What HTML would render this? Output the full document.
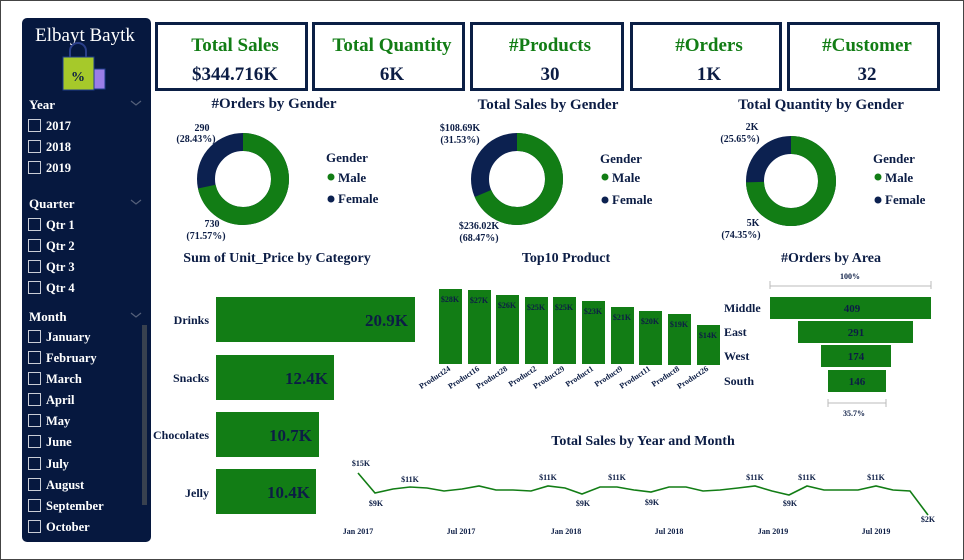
<!DOCTYPE html>
<html><head><meta charset="utf-8"><style>
body{margin:0;width:964px;height:560px;overflow:hidden;background:#fff;font-family:"Liberation Serif",serif;}
svg{display:block}
text{font-family:"Liberation Serif",serif;font-weight:bold;fill:#0c1d45}
</style></head><body>
<svg width="964" height="560" viewBox="0 0 964 560">
<rect x="0.5" y="0.5" width="963" height="559" fill="#fff" stroke="#444"/>
<rect x="22" y="18" width="129" height="524" rx="5" fill="#06183f"/>
<text x="85" y="41" text-anchor="middle" font-size="19" style="font-weight:normal;fill:#fff">Elbayt Baytk</text>
<rect x="63" y="57" width="31" height="33" fill="#a6c92a" stroke="#1d3d8a"/>
<path d="M70 57 v-6 a8 8 0 0 1 16 0 v6" fill="none" stroke="#2a3f8a" stroke-width="2"/>
<text x="78" y="81" text-anchor="middle" font-size="14" style="fill:#0c1d45">%</text>
<rect x="94" y="69" width="11" height="20" fill="#9b7ee8" stroke="#1d3d8a"/>
<g font-size="13">
<text x="29" y="109" style="fill:#fff">Year</text>
<text x="29" y="208" style="fill:#fff">Quarter</text>
<text x="29" y="321" style="fill:#fff">Month</text>
</g>
<g fill="none" stroke="#55607a" stroke-width="1.2">
<path d="M131 101 l5 4 l5 -4"/><path d="M131 200 l5 4 l5 -4"/><path d="M131 313 l5 4 l5 -4"/>
</g>
<rect x="142" y="325" width="5" height="180" fill="#38414f"/>
<g fill="none" stroke="#c9cdd6" stroke-width="1">
<rect x="28.5" y="119.5" width="12" height="12"/><rect x="28.5" y="140.5" width="12" height="12"/><rect x="28.5" y="161.5" width="12" height="12"/>
<rect x="28.5" y="218.5" width="12" height="12"/><rect x="28.5" y="239.5" width="12" height="12"/><rect x="28.5" y="260.5" width="12" height="12"/><rect x="28.5" y="281.5" width="12" height="12"/>
<rect x="28.5" y="330.5" width="12" height="12"/><rect x="28.5" y="351.5" width="12" height="12"/><rect x="28.5" y="372.5" width="12" height="12"/><rect x="28.5" y="393.5" width="12" height="12"/><rect x="28.5" y="414.5" width="12" height="12"/><rect x="28.5" y="435.5" width="12" height="12"/><rect x="28.5" y="457.5" width="12" height="12"/><rect x="28.5" y="478.5" width="12" height="12"/><rect x="28.5" y="499.5" width="12" height="12"/><rect x="28.5" y="520.5" width="12" height="12"/>
</g>
<g font-size="12.5">
<text x="46" y="130" style="fill:#fff">2017</text><text x="46" y="151" style="fill:#fff">2018</text><text x="46" y="172" style="fill:#fff">2019</text>
<text x="46" y="229" style="fill:#fff">Qtr 1</text><text x="46" y="250" style="fill:#fff">Qtr 2</text><text x="46" y="271" style="fill:#fff">Qtr 3</text><text x="46" y="292" style="fill:#fff">Qtr 4</text>
<text x="46" y="341" style="fill:#fff">January</text><text x="46" y="362" style="fill:#fff">February</text><text x="46" y="383" style="fill:#fff">March</text><text x="46" y="404" style="fill:#fff">April</text><text x="46" y="425" style="fill:#fff">May</text><text x="46" y="446" style="fill:#fff">June</text><text x="46" y="468" style="fill:#fff">July</text><text x="46" y="489" style="fill:#fff">August</text><text x="46" y="510" style="fill:#fff">September</text><text x="46" y="531" style="fill:#fff">October</text>
</g>
<g fill="#fff" stroke="#0b1f45" stroke-width="3">
<rect x="156.5" y="23.5" width="150" height="66"/><rect x="313.5" y="23.5" width="150" height="66"/><rect x="471.5" y="23.5" width="151" height="66"/><rect x="631.5" y="23.5" width="149" height="66"/><rect x="788.5" y="23.5" width="150" height="66"/>
</g>
<g font-size="19" text-anchor="middle">
<text x="235" y="51" style="fill:#127d15">Total Sales</text><text x="392" y="51" style="fill:#127d15">Total Quantity</text><text x="550" y="51" style="fill:#127d15">#Products</text><text x="709" y="51" style="fill:#127d15">#Orders</text><text x="867" y="51" style="fill:#127d15">#Customer</text>
<text x="235" y="80">$344.716K</text><text x="392" y="80">6K</text><text x="550" y="80">30</text><text x="709" y="80">1K</text><text x="867" y="80">32</text>
</g>
<g font-size="15" text-anchor="middle">
<text x="274" y="108">#Orders by Gender</text><text x="548" y="109">Total Sales by Gender</text><text x="821" y="109">Total Quantity by Gender</text>
<text x="566" y="262" font-size="14">Top10 Product</text>
<text x="831" y="262" font-size="14">#Orders by Area</text>
<text x="277" y="262" font-size="14">Sum of Unit_Price by Category</text>
<text x="643" y="445" font-size="14">Total Sales by Year and Month</text>
</g>
<g fill="none" stroke-width="18" transform="rotate(-90)">
<circle cx="-179" cy="243" r="37" stroke="#0c2150"/>
<circle cx="-179" cy="243" r="37" stroke="#127d15" stroke-dasharray="166.4 300"/>
<circle cx="-179" cy="517" r="37" stroke="#0c2150"/>
<circle cx="-179" cy="517" r="37" stroke="#127d15" stroke-dasharray="159.2 300"/>
<circle cx="-181" cy="791" r="36" stroke="#0c2150"/>
<circle cx="-181" cy="791" r="36" stroke="#127d15" stroke-dasharray="168.2 300"/>
</g>
<g font-size="10" text-anchor="middle">
<text x="202" y="131">290</text><text x="196" y="142">(28.43%)</text>
<text x="212" y="227">730</text><text x="206" y="239">(71.57%)</text>
<text x="460" y="131">$108.69K</text><text x="460" y="143">(31.53%)</text>
<text x="479" y="229">$236.02K</text><text x="479" y="241">(68.47%)</text>
<text x="752" y="130">2K</text><text x="740" y="142">(25.65%)</text>
<text x="753" y="226">5K</text><text x="741" y="238">(74.35%)</text>
</g>
<g font-size="13">
<text x="326" y="162">Gender</text><text x="338" y="182">Male</text><text x="338" y="203">Female</text>
<text x="600" y="163">Gender</text><text x="612" y="182">Male</text><text x="612" y="204">Female</text>
<text x="873" y="163">Gender</text><text x="885" y="182">Male</text><text x="885" y="204">Female</text>
</g>
<g><circle cx="331" cy="177" r="3.5" fill="#127d15"/><circle cx="331" cy="199" r="3.5" fill="#0c2150"/>
<circle cx="605" cy="177" r="3.5" fill="#127d15"/><circle cx="605" cy="200" r="3.5" fill="#0c2150"/>
<circle cx="878" cy="177" r="3.5" fill="#127d15"/><circle cx="878" cy="200" r="3.5" fill="#0c2150"/></g>
<g fill="#127d15">
<rect x="216" y="297" width="199" height="45"/><rect x="216" y="355" width="118" height="45"/><rect x="216" y="412" width="103" height="45"/><rect x="216" y="469" width="100" height="45"/>
</g>
<g font-size="12" text-anchor="end">
<text x="209" y="324">Drinks</text><text x="209" y="382">Snacks</text><text x="209" y="439">Chocolates</text><text x="209" y="497">Jelly</text>
</g>
<g font-size="17" text-anchor="end">
<text x="408" y="326">20.9K</text><text x="328" y="384">12.4K</text><text x="312" y="441">10.7K</text><text x="310" y="498">10.4K</text>
</g>
<g fill="#127d15">
<rect x="439" y="289" width="23" height="75"/><rect x="468" y="290" width="23" height="74"/><rect x="496" y="295" width="23" height="69"/><rect x="525" y="297" width="23" height="67"/><rect x="553" y="297" width="23" height="67"/><rect x="582" y="301" width="23" height="63"/><rect x="611" y="307" width="23" height="57"/><rect x="639" y="311" width="23" height="54"/><rect x="668" y="314" width="23" height="51"/><rect x="697" y="325" width="23" height="40"/>
</g>
<g font-size="8" text-anchor="middle">
<text x="450" y="302">$28K</text><text x="479" y="303">$27K</text><text x="507" y="308">$26K</text><text x="536" y="310">$25K</text><text x="564" y="310">$25K</text><text x="593" y="314">$23K</text><text x="622" y="320">$21K</text><text x="650" y="324">$20K</text><text x="679" y="327">$19K</text><text x="708" y="338">$14K</text>
</g>
<g font-size="8" text-anchor="end">
<text transform="translate(451,370) rotate(-33)">Product24</text><text transform="translate(480,370) rotate(-33)">Product16</text><text transform="translate(508,370) rotate(-33)">Product28</text><text transform="translate(537,370) rotate(-33)">Product2</text><text transform="translate(565,370) rotate(-33)">Product29</text><text transform="translate(594,370) rotate(-33)">Product1</text><text transform="translate(623,370) rotate(-33)">Product9</text><text transform="translate(651,370) rotate(-33)">Product11</text><text transform="translate(680,370) rotate(-33)">Product8</text><text transform="translate(709,370) rotate(-33)">Product26</text>
</g>
<g fill="#127d15">
<rect x="770" y="297" width="161" height="22"/><rect x="798" y="321" width="115" height="22"/><rect x="821" y="345" width="70" height="22"/><rect x="828" y="370" width="58" height="22"/>
</g>
<g font-size="11" text-anchor="middle"><text x="852" y="312">409</text><text x="856" y="336">291</text><text x="856" y="360">174</text><text x="857" y="385">146</text></g>
<g font-size="12"><text x="724" y="312">Middle</text><text x="724" y="336">East</text><text x="724" y="360">West</text><text x="724" y="385">South</text></g>
<g stroke="#bbb" fill="none"><path d="M770 281 v8 M770 286 H931 M931 281 v8 M828 399 v8 M828 403 H886 M886 399 v8"/></g>
<g font-size="8" text-anchor="middle"><text x="850" y="279">100%</text><text x="854" y="416">35.7%</text></g>
<polyline fill="none" stroke="#127d15" stroke-width="1.6" points="358,473 375,493 393,489 410,487 427,488 444,491 462,489 479,486 496,490 513,490 531,491 548,486 565,488 582,494 600,487 617,487 634,490 651,492 669,487 686,487 703,491 720,490 738,488 755,486 772,491 789,495 807,486 824,490 841,490 858,490 876,486 893,490 910,491 928,515"/>
<g font-size="8" text-anchor="middle">
<text x="361" y="466">$15K</text><text x="376" y="506">$9K</text><text x="410" y="482">$11K</text><text x="548" y="480">$11K</text><text x="583" y="506">$9K</text><text x="617" y="480">$11K</text><text x="652" y="505">$9K</text><text x="755" y="480">$11K</text><text x="790" y="506">$9K</text><text x="807" y="480">$11K</text><text x="876" y="480">$11K</text><text x="928" y="522">$2K</text>
<text x="358" y="534">Jan 2017</text><text x="461" y="534">Jul 2017</text><text x="566" y="534">Jan 2018</text><text x="669" y="534">Jul 2018</text><text x="773" y="534">Jan 2019</text><text x="876" y="534">Jul 2019</text>
</g>
</svg>
</body></html>
